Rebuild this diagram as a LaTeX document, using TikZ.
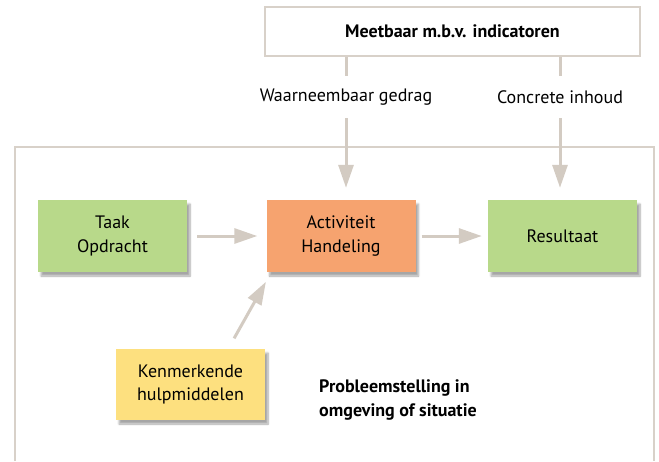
\documentclass[tikz,border=0pt]{standalone}
\usepackage{fontspec}
\setmainfont{PT Sans}
\usetikzlibrary{arrows.meta,shadows.blur}

\definecolor{lijn}{HTML}{D3CBC2}
\definecolor{kader}{HTML}{D8D1C9}
\definecolor{groen}{HTML}{B8D98A}
\definecolor{oranje}{HTML}{F6A36F}
\definecolor{geel}{HTML}{FDE07F}

\begin{document}
\begin{tikzpicture}[x=1pt,y=-1pt,
    pijl/.style={-{Triangle[length=23pt,width=15pt]}}]

      \useasboundingbox (0,0) rectangle (659,461);

      % kader rond de situatie
      \draw[kader,line width=2pt] (15,461) -- (15,147) -- (654,147) -- (654,461);

      \node[draw=kader,line width=2.5pt,minimum width=375pt,minimum height=49pt,
            font=\fontsize{18}{22}\selectfont\bfseries] (meet) at (452.5,31.5) {Meetbaar m.b.v. indicatoren};

      \begin{scope}[every node/.style={inner sep=0pt,minimum height=42pt,font=\fontsize{18}{22}\selectfont}]
        \node (gedrag) at (346,97) {Waarneembaar gedrag};
        \node (inhoud) at (560,97) {Concrete inhoud};
      \end{scope}

      \begin{scope}[every node/.style={minimum width=149pt,minimum height=72pt,align=center,
            font=\fontsize{18}{23.5}\selectfont,
            blur shadow={shadow xshift=3pt,shadow yshift=-4pt,shadow blur steps=8,shadow opacity=35}}]
        \node[fill=groen]  (taak) at (112.5,236) {Taak\\Opdracht};
        \node[fill=oranje] (act)  at (341,236)   {Activiteit\\Handeling};
        \node[fill=groen]  (res)  at (562.5,236) {Resultaat};
        \node[fill=geel,minimum height=71pt] (hulp) at (190.5,384.5) {Kenmerkende\\hulpmiddelen};
      \end{scope}

      \node[align=left,font=\fontsize{18}{24}\selectfont\bfseries] (prob) at (398,400)
        {Probleemstelling in\\omgeving of situatie};

      \begin{scope}[every edge/.style={draw=lijn,line width=3pt}]
        \path (gedrag |- meet.south) edge (gedrag.north);
        \path (inhoud |- meet.south) edge (inhoud.north);
        \path (gedrag.south) edge[pijl,shorten >=12pt] (gedrag |- act.north);
        \path (inhoud.south) edge[pijl,shorten >=12pt] (inhoud |- res.north);
        \path (taak) edge[pijl,shorten <=10pt,shorten >=9pt] (act);
        \path (act)  edge[pijl,shorten <=6pt,shorten >=6pt] (res);
        \path ([xshift=-37pt]hulp.north east) edge[pijl,shorten <=12pt,shorten >=11pt] ([xshift=5pt]act.south west);
      \end{scope}

    \end{tikzpicture}
\end{document}
